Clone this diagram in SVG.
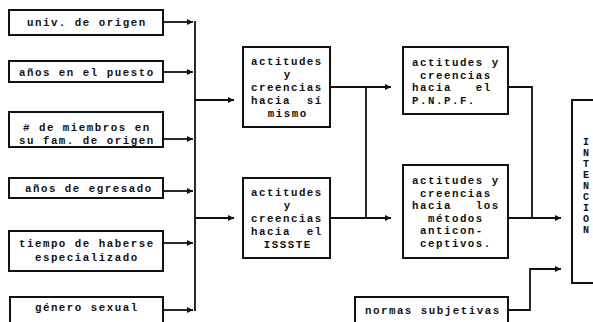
<svg xmlns="http://www.w3.org/2000/svg" width="593" height="322" viewBox="0 0 593 322">
<style>
.box{fill:#fff;stroke:#111;stroke-width:2}
.t{font-family:"Liberation Mono","DejaVu Sans Mono",monospace;font-weight:bold;font-size:10.8px;letter-spacing:1.5px;fill:#111}
.c{text-anchor:middle}
.v{font-family:"Liberation Mono","DejaVu Sans Mono",monospace;font-weight:bold;font-size:10px;fill:#111;text-anchor:middle}
.ln{fill:none;stroke:#111;stroke-width:1.8}
</style>
<defs>
<marker id="ah" markerUnits="userSpaceOnUse" markerWidth="7" markerHeight="6" refX="6" refY="3" orient="auto">
<path d="M0,0 L6,3 L0,6 z" fill="#111"/>
</marker>
</defs>
<rect width="593" height="322" fill="#fff"/>
<g id="n-univ"><rect class="box" x="9" y="10" width="154" height="25"/><text class="t c" x="86.8" y="26">univ. de origen</text></g>
<g id="n-anos-puesto"><rect class="box" x="9" y="61" width="154" height="21"/><text class="t c" x="86.8" y="75.5">años en el puesto</text></g>
<g id="n-miembros"><rect class="box" x="9" y="112" width="154" height="35"/><text class="t c" x="86.8" y="131"># de miembros en</text><text class="t c" x="86.8" y="144">su fam. de origen</text></g>
<g id="n-egresado"><rect class="box" x="9" y="178" width="154" height="20"/><text class="t c" x="88.8" y="192">años de egresado</text></g>
<g id="n-tiempo"><rect class="box" x="9" y="231" width="154" height="40"/><text class="t c" x="86.8" y="247">tiempo de haberse</text><text class="t c" x="86.8" y="260.5">especializado</text></g>
<g id="n-genero"><rect class="box" x="10" y="297" width="153" height="30"/><text class="t c" x="86.8" y="311">género sexual</text></g>
<g id="n-si-mismo"><rect class="box" x="243" y="47" width="87" height="80"/>
<text class="t" x="251" y="65" xml:space="preserve">actitudes</text>
<text class="t c" x="287.7" y="78">y</text>
<text class="t" x="251" y="91" xml:space="preserve">creencias</text>
<text class="t" x="251" y="104" xml:space="preserve">hacia  sí</text>
<text class="t c" x="287.7" y="117">mismo</text></g>
<g id="n-issste"><rect class="box" x="243" y="178" width="87" height="80"/>
<text class="t" x="251" y="196" xml:space="preserve">actitudes</text>
<text class="t c" x="287.7" y="209">y</text>
<text class="t" x="251" y="222" xml:space="preserve">creencias</text>
<text class="t" x="251" y="235" xml:space="preserve">hacia  el</text>
<text class="t c" x="287.7" y="248">ISSSTE</text></g>
<g id="n-pnpf"><rect class="box" x="403" y="47" width="105" height="67"/>
<text class="t" x="412" y="66" xml:space="preserve">actitudes y</text>
<text class="t" x="412" y="78.5" xml:space="preserve"> creencias</text>
<text class="t" x="412" y="91" xml:space="preserve">hacia   el</text>
<text class="t" x="412" y="103.5" xml:space="preserve">P.N.P.F.</text></g>
<g id="n-metodos"><rect class="box" x="403" y="165" width="105" height="93"/>
<text class="t" x="412" y="184" xml:space="preserve">actitudes y</text>
<text class="t" x="412" y="196.5" xml:space="preserve"> creencias</text>
<text class="t" x="412" y="209" xml:space="preserve">hacia   los</text>
<text class="t" x="412" y="221.5" xml:space="preserve">  métodos</text>
<text class="t" x="412" y="234" xml:space="preserve"> anticon-</text>
<text class="t" x="412" y="246.5" xml:space="preserve"> ceptivos.</text></g>
<g id="n-normas"><rect class="box" x="355" y="297" width="153" height="30"/><text class="t c" x="432.8" y="314">normas subjetivas</text></g>
<g id="n-intencion"><path class="box" style="fill:none" d="M596,100 H572 V283 H596"/>
<text class="v" x="586" y="145">I</text><text class="v" x="586" y="156">N</text><text class="v" x="586" y="167">T</text><text class="v" x="586" y="178">E</text><text class="v" x="586" y="189">N</text><text class="v" x="586" y="200">C</text><text class="v" x="586" y="211">I</text><text class="v" x="586" y="222">O</text><text class="v" x="586" y="233">N</text>
</g>
<g id="connectors">
<path class="ln" marker-end="url(#ah)" d="M163,22 H193"/>
<path class="ln" marker-end="url(#ah)" d="M163,72 H193"/>
<path class="ln" marker-end="url(#ah)" d="M163,139 H193"/>
<path class="ln" marker-end="url(#ah)" d="M163,191 H193"/>
<path class="ln" marker-end="url(#ah)" d="M163,243 H193"/>
<path class="ln" marker-end="url(#ah)" d="M163,310 H193"/>
<path class="ln" d="M195,21 V311"/>
<path class="ln" marker-end="url(#ah)" d="M195,100 H234"/>
<path class="ln" marker-end="url(#ah)" d="M195,218 H234"/>
<path class="ln" marker-end="url(#ah)" d="M330,87 H391"/>
<path class="ln" marker-end="url(#ah)" d="M330,218 H391"/>
<path class="ln" d="M366,87 V218"/>
<path class="ln" d="M508,87 H532 V218"/>
<path class="ln" marker-end="url(#ah)" d="M508,218 H561"/>
<path class="ln" marker-end="url(#ah)" d="M508,310 H530 V269 H561"/>
</g>
</svg>
